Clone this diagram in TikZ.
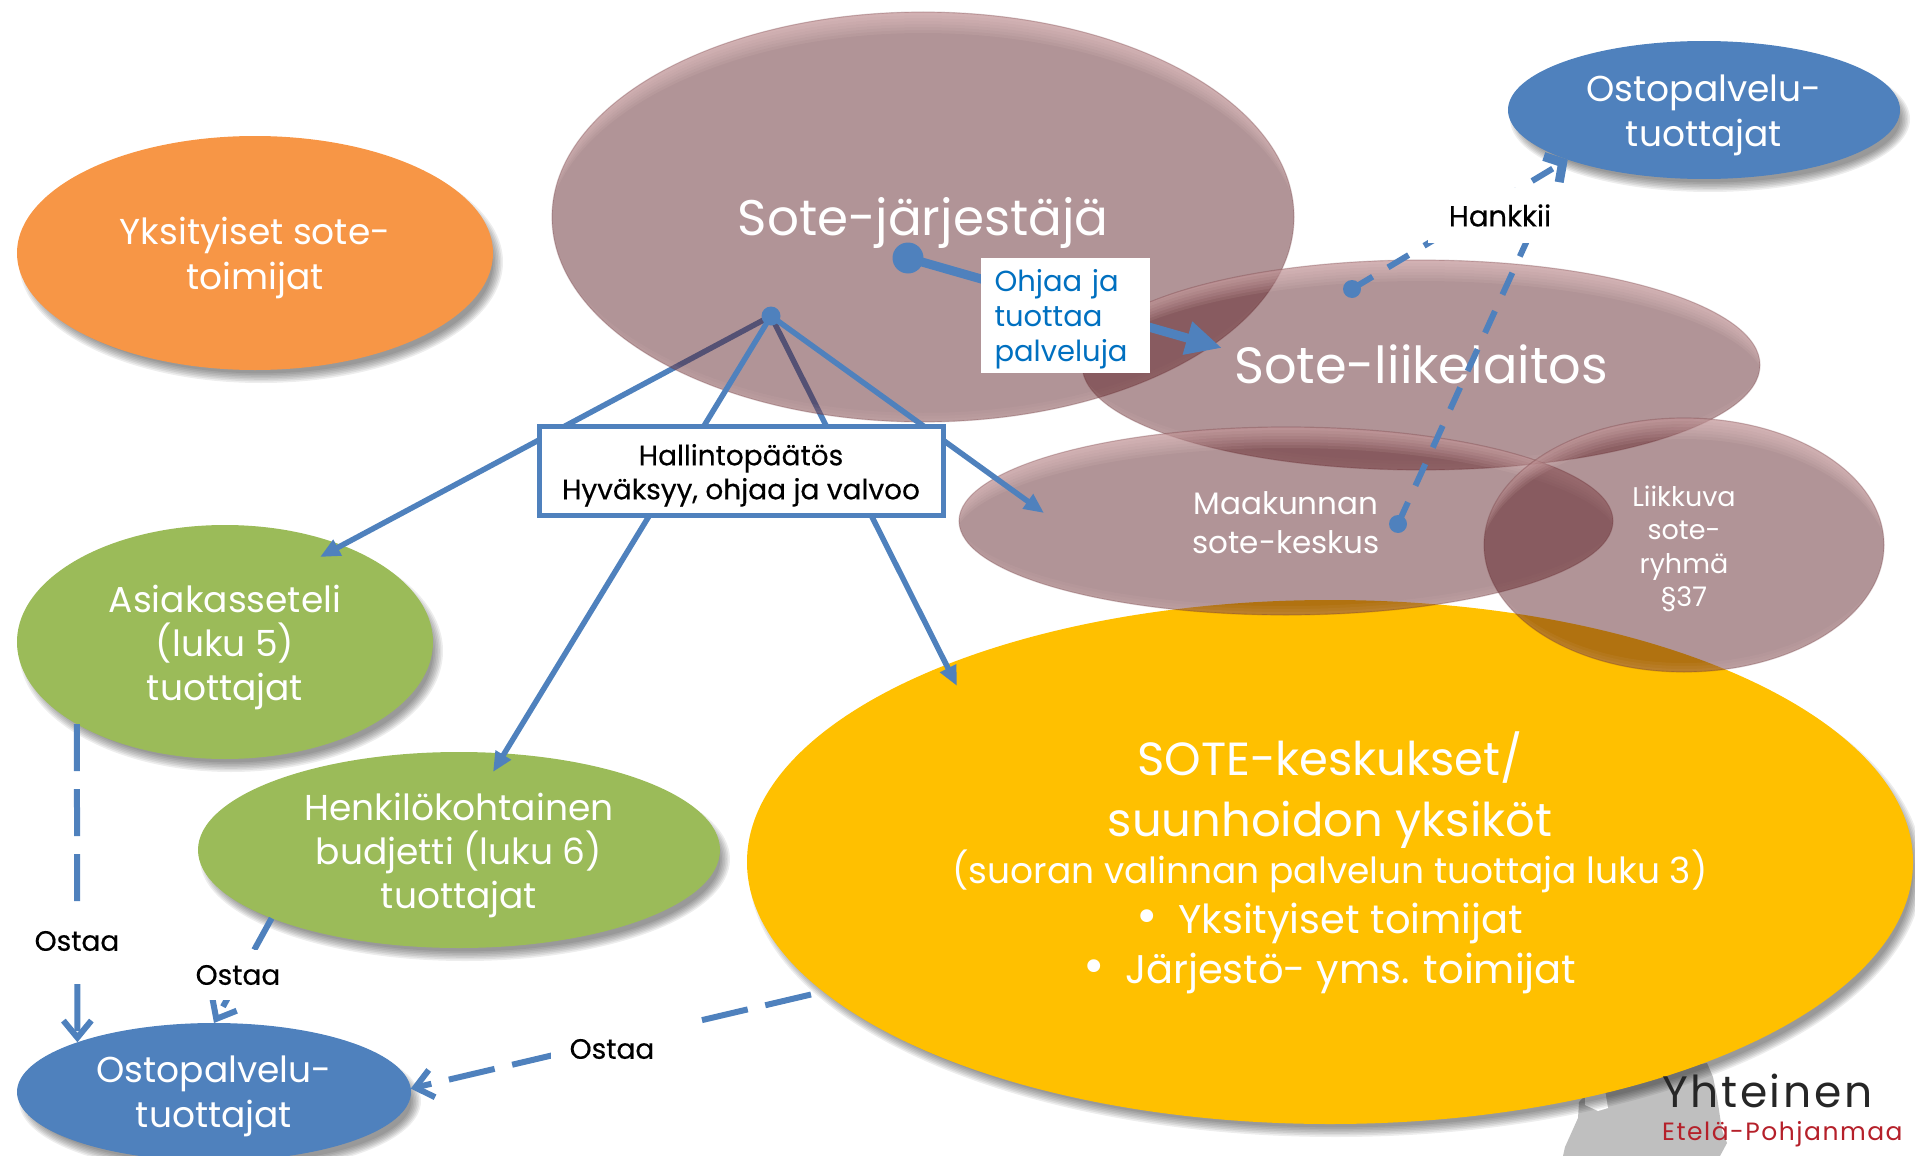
\documentclass[tikz,border=0pt]{standalone}
\usepackage{fontspec}
\setmainfont{Poppins}
\newfontfamily\tagfont[FakeBold=0.35]{Poppins}
\usetikzlibrary{shapes.geometric,arrows.meta,calc}
\definecolor{linkblue}{HTML}{4F81BD}
\definecolor{orangefill}{HTML}{F79646}
\definecolor{greenfill}{HTML}{9BBB59}
\definecolor{goldfill}{HTML}{FFC000}
\definecolor{wine}{RGB}{90,28,34}
\definecolor{rimpink}{RGB}{250,215,215}
\definecolor{ohjaa}{HTML}{0070C0}
\definecolor{logored}{HTML}{B5202A}
\newcommand{\fsz}[2]{\fontsize{#1pt}{#2pt}\selectfont}
\newcommand{\lines}[2]{\raisebox{-#1pt}[\height][\depth]{\begin{tabular}{@{}c@{}}#2\end{tabular}}}
\newcommand{\softshadow}[4]{%
  \foreach \k in {0,...,6}{%
    \fill[black,fill opacity=.07] ({#1+6},{#2+9}) ellipse [x radius={#3+4-\k*1.6},y radius={#4+4-\k*1.6}];}}
\tikzset{
  oval/.style n args={2}{ellipse,inner sep=0pt,outer sep=0pt,align=center,text=white,
    minimum width=#1pt*2,minimum height=#2pt*2},
  glass/.style n args={2}{oval={#1}{#2},fill=wine,fill opacity=.47,text opacity=1,
    draw=wine,draw opacity=.22,line width=1.2pt,
    path picture={
      \foreach \d in {3,6,...,21}{
        \fill[rimpink,fill opacity=.085,even odd rule]
          ([shift={(-1000,-800)}]path picture bounding box.center) rectangle ([shift={(1000,800)}]path picture bounding box.center)
          ([shift={(0,\d)}]path picture bounding box.center) ellipse [x radius=#1+6,y radius=#2];}
      \foreach \d in {3,6,9}{
        \fill[rimpink,fill opacity=.05,even odd rule]
          ([shift={(-1000,-800)}]path picture bounding box.center) rectangle ([shift={(1000,800)}]path picture bounding box.center)
          ([shift={(0,-\d)}]path picture bounding box.center) ellipse [x radius=#1+6,y radius=#2];}
    }},
  link/.style={draw=linkblue,line width=5.5pt},
  tip/.style={-{Triangle[length=20pt,width=17pt]}},
  dashlink/.style={draw=linkblue,line width=6pt,dash pattern=on 47pt off 18pt,-{Straight Barb[length=17pt,width=28pt,line width=6pt]}},
  hanklink/.style={draw=linkblue,line width=6pt,dash pattern=on 24pt off 18pt},
  dot/.style={circle,fill=linkblue,inner sep=0pt,minimum size=#1},
  tag/.style={fill=white,text=black,inner sep=0pt,align=center,font=\tagfont\fsz{28}{33}},
}
\begin{document}
\begin{tikzpicture}[x=1pt,y=-1pt]
\useasboundingbox (0,0) rectangle (1915,1156);
\clip (0,0) rectangle (1915,1156);
% free ends and hubs
\coordinate (hubc) at (771,316);
\coordinate (keskusin) at (1044,513);
\coordinate (yellowin) at (957,686);
\coordinate (asiakasin) at (320,557);
\coordinate (budgetin) at (493,772);
\coordinate (yellowend) at (811,994.5);
% logo map
\fill[black!25] (1707,1063) -- (1713,1077) -- (1717,1097) -- (1722,1130) -- (1727,1143) -- (1720,1156) -- (1563,1156) -- (1565,1147) -- (1578,1118) -- (1579,1102) -- (1600,1080) -- cycle;
\fill[white] (1585,1105) -- (1598,1111) -- (1608,1108) -- (1605,1090) -- (1585,1092) -- cycle;
% solid coloured ovals
\softshadow{255}{253}{238}{117}
\node[oval={238}{117},fill=orangefill,font=\fsz{36}{45}] (yks) at (255,253) {\lines{5}{Yksityiset sote-\\toimijat}};
\softshadow{225}{642}{208}{117}
\node[oval={208}{117},fill=greenfill,font=\fsz{36}{45}] (asiakas) at (225,642) {\lines{5.5}{Asiakasseteli\\[-2.4pt](luku 5)\\[-1.2pt]tuottajat}};
\softshadow{459}{850}{261}{98}
\node[oval={261}{98},fill=greenfill,font=\fsz{36}{45}] (budget) at (459,850) {\lines{5.5}{Henkilökohtainen\\[-2.4pt]budjetti (luku 6)\\[-1.2pt]tuottajat}};
\softshadow{214}{1092}{197}{69}
\node[oval={197}{69},fill=linkblue,font=\fsz{36}{45}] (ostoa) at (214,1092) {\lines{4}{Ostopalvelu-\\tuottajat}};
\softshadow{1704}{110}{196}{69}
\node[oval={196}{69},fill=linkblue,font=\fsz{36}{45}] (ostob) at (1704,110) {\lines{5.5}{Ostopalvelu-\\tuottajat}};
% dashed link that runs under the yellow oval
\path[dashlink] (yellowend) -- (ostoa.1);
\softshadow{1330}{862}{583}{262}
\node[oval={583}{262},fill=goldfill,font=\fsz{36}{47}] (sote) at (1330,862) {\lines{3}{\fsz{46.5}{47}SOTE-keskukset/\\[11pt]\fsz{46.5}{47}suunhoidon yksiköt\\\fsz{36}{47}(suoran valinnan palvelun tuottaja luku 3)\\[3pt]\fsz{52}{47}\textbullet\fsz{40}{47}\hspace{20pt}Yksityiset toimijat\\[3pt]\fsz{52}{47}\textbullet\fsz{40}{47}\hspace{20pt}Järjestö- yms. toimijat}};
% logo text
\node[anchor=base west,inner sep=0pt,text=black!85,font=\fsz{44}{44}\addfontfeatures{LetterSpace=6}] (logoa) at (1662,1107) {Yhteinen};
\node[anchor=base west,inner sep=0pt,text=logored,font=\fsz{25}{25}\addfontfeatures{LetterSpace=6}] (logob) at (1662,1140) {Etelä-Pohjanmaa};
% hub lines seen through the big oval
\draw[link,tip] (hubc) -- (asiakasin);
\draw[link,tip] (hubc) -- (yellowin);
% translucent ovals
\node[glass={371}{205},font=\fsz{50}{60}] (jarj) at (923,217) {\lines{6}{Sote-järjestäjä}};
\node[glass={339}{105},font=\fsz{51}{60}] (liike) at (1421,365) {\lines{6}{Sote-liikelaitos}};
\node[glass={327}{94},font=\fsz{31}{39}] (maak) at (1286,521) {\lines{5}{Maakunnan\\sote-keskus}};
\node[glass={200}{127},font=\fsz{27}{33.5}] (liik) at (1684,545) {\lines{5}{Liikkuva\\sote-\\ryhmä\\§37}};
% hub lines on top
\node[dot=19pt] (hub) at (hubc) {};
\draw[link,tip] (hub.center) -- (budgetin);
\draw[link,tip] (hub.center) -- (keskusin);
\node[draw=linkblue,line width=5pt,fill=white,inner sep=0pt,minimum width=404pt,minimum height=89pt,align=center,text=black,font=\tagfont\fsz{28}{34}] (paatos) at (741,471) {\lines{4.5}{Hallintopäätös\\Hyväksyy, ohjaa ja valvoo}};
% steering link
\node[dot=31pt] (ohjdot) at (908,258) {};
\coordinate (ohjend) at (1222,348);
\draw[linkblue,line width=9pt,-{Triangle[length=36pt,width=32pt]}] (ohjdot.center) -- (ohjend);
\node[fill=white,inner sep=0pt,minimum width=169pt,minimum height=115pt,text width=141pt,align=left,text=ohjaa,font=\fsz{29}{35}] (ohj) at (1065,315) {\raisebox{-4pt}[\height][\depth]{\begin{tabular}{@{}l@{}}Ohjaa ja\\tuottaa\\palveluja\end{tabular}}};
% Hankkii links
\node[dot=18pt] (hdota) at (1352,289) {};
\node[dot=18pt] (hdotb) at (1398,524) {};
\coordinate (hankmid) at (1530,234);
\path[hanklink,-{Straight Barb[length=13pt,width=30pt,line width=9pt]}] (hdota.center) -- (ostob.200);
\path[hanklink] (hdotb.center) -- (hankmid);
\node[tag,minimum width=144pt,minimum height=55pt,font=\tagfont\fsz{29}{33}] (hank) at (1500,215.5) {Hankkii};
% purchase links
\path[dashlink] (asiakas.209) -- (ostoa.160);
\node[tag,minimum width=100pt,minimum height=52pt] (osta) at (77,941) {Ostaa};
\path[dashlink,dash phase=11pt] (budget.200) -- (ostoa.90);
\node[tag,minimum width=100pt,minimum height=50pt] (ostb) at (238,975) {Ostaa};
\node[tag,minimum width=146pt,minimum height=60pt] (ostc) at (624,1049) {Ostaa\hspace{24pt}};
\end{tikzpicture}
\end{document}
